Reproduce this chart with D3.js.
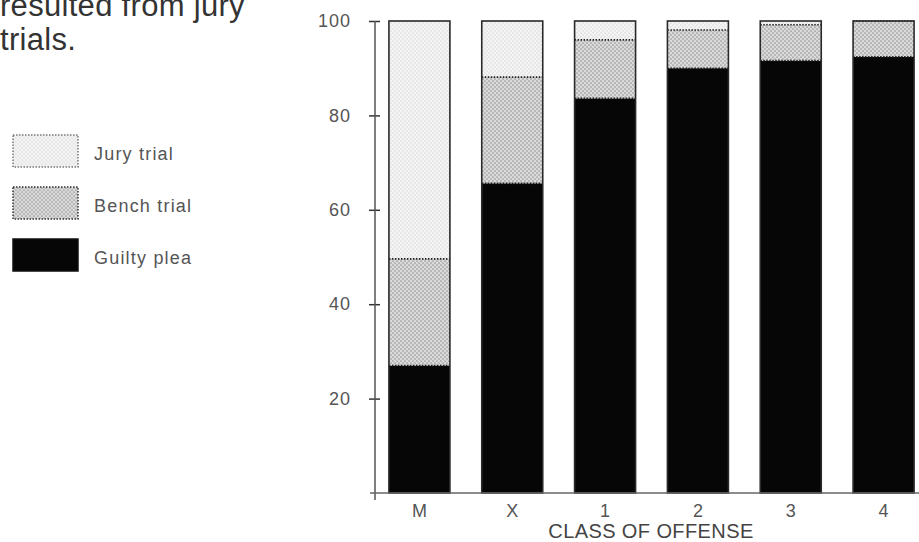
<!DOCTYPE html>
<html>
<head>
<meta charset="utf-8">
<script src="https://cdn.jsdelivr.net/npm/d3@7"></script>
<style>
  html, body { margin: 0; padding: 0; background: #fff; }
  svg { display: block; }
  text { font-family: "Liberation Sans", Arial, Helvetica, sans-serif; }
</style>
</head>
<body>
<svg id="chart" width="919" height="542"></svg>
<script>
// ---- data ----
const categories = ["M", "X", "1", "2", "3", "4"];
const seriesNames = ["Guilty plea", "Bench trial", "Jury trial"];
const guiltyPlea = [27, 65.6, 83.6, 90, 91.6, 92.4];
const benchTrial = [22.6, 22.5, 12.4, 8.1, 7.6, 7.6];
const juryTrial  = [50.4, 11.9, 4, 1.9, 0.8, 0];
const yTicks = [20, 40, 60, 80, 100];
const introLines = ["resulted from jury", "trials."];
const xTitle = "CLASS OF OFFENSE";
const legendItems = ["Jury trial", "Bench trial", "Guilty plea"];

const rows = categories.map((c, i) => ({
  cat: c,
  "Guilty plea": guiltyPlea[i],
  "Bench trial": benchTrial[i],
  "Jury trial": juryTrial[i]
}));

const svg = d3.select("#chart");
const defs = svg.append("defs");

// halftone-like patterns
function dotPattern(id, bg, dot, size, r) {
  const p = defs.append("pattern").attr("id", id)
    .attr("width", size).attr("height", size)
    .attr("patternUnits", "userSpaceOnUse");
  p.append("rect").attr("width", size).attr("height", size).attr("fill", bg);
  p.append("circle").attr("cx", size / 4).attr("cy", size / 4).attr("r", r).attr("fill", dot);
  p.append("circle").attr("cx", size * 3 / 4).attr("cy", size * 3 / 4).attr("r", r).attr("fill", dot);
}
dotPattern("pJury", "#f4f4f4", "#d8d8d8", 4, 0.8);
dotPattern("pBench", "#dadada", "#999999", 4, 0.85);

const fills = {
  "Jury trial": "url(#pJury)",
  "Bench trial": "url(#pBench)",
  "Guilty plea": "#060606"
};

// ---- scales ----
const x = d3.scaleBand().domain(categories).range([375, 928])
  .paddingInner(0.343).paddingOuter(0.15);
const y = d3.scaleLinear().domain([0, 100]).range([493, 21]);

const stack = d3.stack().keys(seriesNames);
const series = stack(rows);

// ---- bars ----
const gBars = svg.append("g");
series.forEach(s => {
  gBars.append("g").selectAll("rect").data(s).join("rect")
    .attr("x", d => x(d.data.cat))
    .attr("width", x.bandwidth())
    .attr("y", d => y(d[1]))
    .attr("height", d => Math.max(0, y(d[0]) - y(d[1])))
    .attr("fill", fills[s.key]);
});
// dotted segment boundaries
series.slice(0, 2).forEach(s => {
  gBars.append("g").selectAll("line").data(s).join("line")
    .attr("x1", d => x(d.data.cat))
    .attr("x2", d => x(d.data.cat) + x.bandwidth())
    .attr("y1", d => y(d[1]))
    .attr("y2", d => y(d[1]))
    .attr("stroke", "#222")
    .attr("stroke-width", 1.6)
    .attr("stroke-dasharray", "1.5,1.5");
});
// bar outlines
gBars.append("g").selectAll("rect").data(rows).join("rect")
  .attr("x", d => x(d.cat))
  .attr("width", x.bandwidth())
  .attr("y", y(100))
  .attr("height", y(0) - y(100))
  .attr("fill", "none")
  .attr("stroke", "#2a2a2a")
  .attr("stroke-width", 1.6);

// ---- y axis ----
const yAxis = d3.axisLeft(y).tickValues(yTicks).tickSize(6).tickPadding(18);
const gy = svg.append("g").attr("transform", "translate(375,0)").call(yAxis);
gy.select(".domain").remove();
gy.append("line").attr("x1", 0).attr("x2", 0).attr("y1", y(100)).attr("y2", y(0) + 7)
  .attr("stroke", "#555").attr("stroke-width", 1.5);
gy.selectAll(".tick line").attr("x2", 5).attr("x1", -6).attr("stroke", "#333").attr("stroke-width", 1.5);
gy.selectAll(".tick text").attr("font-size", 18).attr("fill", "#555")
  .attr("letter-spacing", "1px");

// ---- x axis ----
const xAxis = d3.axisBottom(x).tickSize(0).tickPadding(0);
const gx = svg.append("g").attr("transform", "translate(0,493)").call(xAxis);
gx.select(".domain").remove();
gx.append("line").attr("x1", 370).attr("x2", 919).attr("y1", 0).attr("y2", 0)
  .attr("stroke", "#666").attr("stroke-width", 1.5);
gx.selectAll(".tick text").attr("font-size", 18).attr("fill", "#555")
  .attr("y", 24).attr("dy", 0);

svg.append("text").attr("x", 651).attr("y", 538).attr("text-anchor", "middle")
  .attr("font-size", 20).attr("fill", "#444").attr("letter-spacing", "0.4px")
  .text(xTitle);

// ---- intro text ----
svg.append("g").selectAll("text").data(introLines).join("text")
  .attr("x", 0).attr("y", (d, i) => 16 + i * 34)
  .attr("font-size", 31).attr("fill", "#333").attr("letter-spacing", "0.3px")
  .text(d => d);

// ---- legend ----
const lg = svg.append("g");
const leg = lg.selectAll("g").data(legendItems).join("g")
  .attr("transform", (d, i) => `translate(13,${135 + i * 52})`);
leg.append("rect").attr("width", 65).attr("height", 32)
  .attr("fill", d => fills[d])
  .attr("stroke", d => d === "Guilty plea" ? "#111" : (d === "Jury trial" ? "#777" : "#333"))
  .attr("stroke-width", 1.5)
  .attr("stroke-dasharray", d => d === "Guilty plea" ? null : "1.5,1.5");
leg.append("text").attr("x", 81).attr("y", 25)
  .attr("font-size", 18).attr("fill", "#555").attr("letter-spacing", "1.2px")
  .text(d => d);
</script>
</body>
</html>
